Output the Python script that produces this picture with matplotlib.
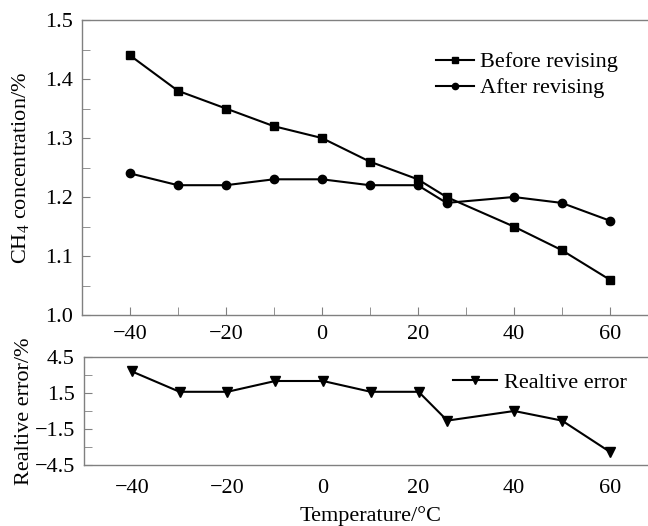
import matplotlib
matplotlib.use("Agg")
import matplotlib.pyplot as plt
from matplotlib.ticker import MultipleLocator, FixedLocator

plt.rcParams['font.family'] = ['Liberation Serif', 'DejaVu Serif']
plt.rcParams['mathtext.fontset'] = 'custom'
plt.rcParams['mathtext.rm'] = 'Liberation Serif'

temps = [-40, -30, -20, -10, 0, 10, 20, 26, 40, 50, 60]
before = [1.44, 1.38, 1.35, 1.32, 1.30, 1.26, 1.23, 1.20, 1.15, 1.11, 1.06]
after = [1.24, 1.22, 1.22, 1.23, 1.23, 1.22, 1.22, 1.19, 1.20, 1.19, 1.16]
rel_error = [3.3, 1.6, 1.6, 2.5, 2.5, 1.6, 1.6, -0.8, 0.0, -0.8, -3.4]
x_ticks = [-40, -20, 0, 20, 40, 60]
top_yticks = [1.0, 1.1, 1.2, 1.3, 1.4, 1.5]
bot_yticks = [4.5, 1.5, -1.5, -4.5]

FS = 16
spine_col = '#808080'

fig = plt.figure(figsize=(6.48, 5.26), dpi=100)
W, H = 648, 526
ax1 = fig.add_axes([82 / W, 1 - 315 / H, (657.6 - 82) / W, (315 - 20) / H])
ax2 = fig.add_axes([84 / W, 1 - 465 / H, (657.6 - 84) / W, (465 - 357) / H])

ax1.plot(temps, before, '-', color='black', lw=1.5, marker='s', ms=5.5, label='Before revising')
ax1.plot(temps, after, '-', color='black', lw=1.5, marker='o', ms=6, label='After revising')
ax1.set_xlim(-50, 70)
ax1.set_ylim(1.0, 1.5)
ax1.set_xticks(x_ticks)
ax1.set_xticklabels([str(t).replace('-', '\u2212') for t in x_ticks])
ax1.xaxis.set_minor_locator(MultipleLocator(10))
ax1.set_yticks(top_yticks)
ax1.set_yticklabels([f'{v:.1f}' for v in top_yticks])
ax1.yaxis.set_minor_locator(MultipleLocator(0.05))
ax1.set_ylabel('CH$_4$ concentration/%', fontsize=FS)
ax1.legend(loc='upper left', bbox_to_anchor=(0.58, 0.96), frameon=False,
           fontsize=FS, handlelength=1.7, handletextpad=0.3, labelspacing=0.25,
           markerscale=0.75)

ax2.plot(temps, rel_error, '-', color='black', lw=1.5, marker='v', ms=7, label='Realtive error')
ax2.set_xlim(-50, 70)
ax2.set_ylim(-4.5, 4.5)
ax2.set_xticks(x_ticks)
ax2.set_xticklabels([str(t).replace('-', '\u2212') for t in x_ticks])
ax2.set_yticks(bot_yticks)
ax2.set_yticklabels([str(v).replace('-', '\u2212') for v in bot_yticks])
ax2.yaxis.set_minor_locator(FixedLocator([3.0, 0.0, -3.0]))
ax2.set_ylabel('Realtive error/%', fontsize=FS)
ax2.set_xlabel('Temperature/\u00b0C', fontsize=FS, labelpad=6)
ax2.legend(loc='upper left', bbox_to_anchor=(0.608, 1.046), frameon=False,
           fontsize=FS, handlelength=2.0, handletextpad=0.3, markerscale=0.8)

for ax in (ax1, ax2):
    for s in ax.spines.values():
        s.set_color(spine_col)
        s.set_linewidth(1.0)
    ax.tick_params(axis='both', which='both', direction='in', labelsize=FS, color=spine_col)
    ax.tick_params(axis='both', which='both', length=6)
    ax.tick_params(axis='y', which='both', pad=6.5)
ax1.tick_params(axis='x', which='both', pad=7.5)
ax2.tick_params(axis='x', which='both', length=0, pad=10)

ax1.yaxis.set_label_coords(-0.087, 0.5)
ax2.yaxis.set_label_coords(-0.087, 0.5)

fig.savefig('out.png', dpi=100)
